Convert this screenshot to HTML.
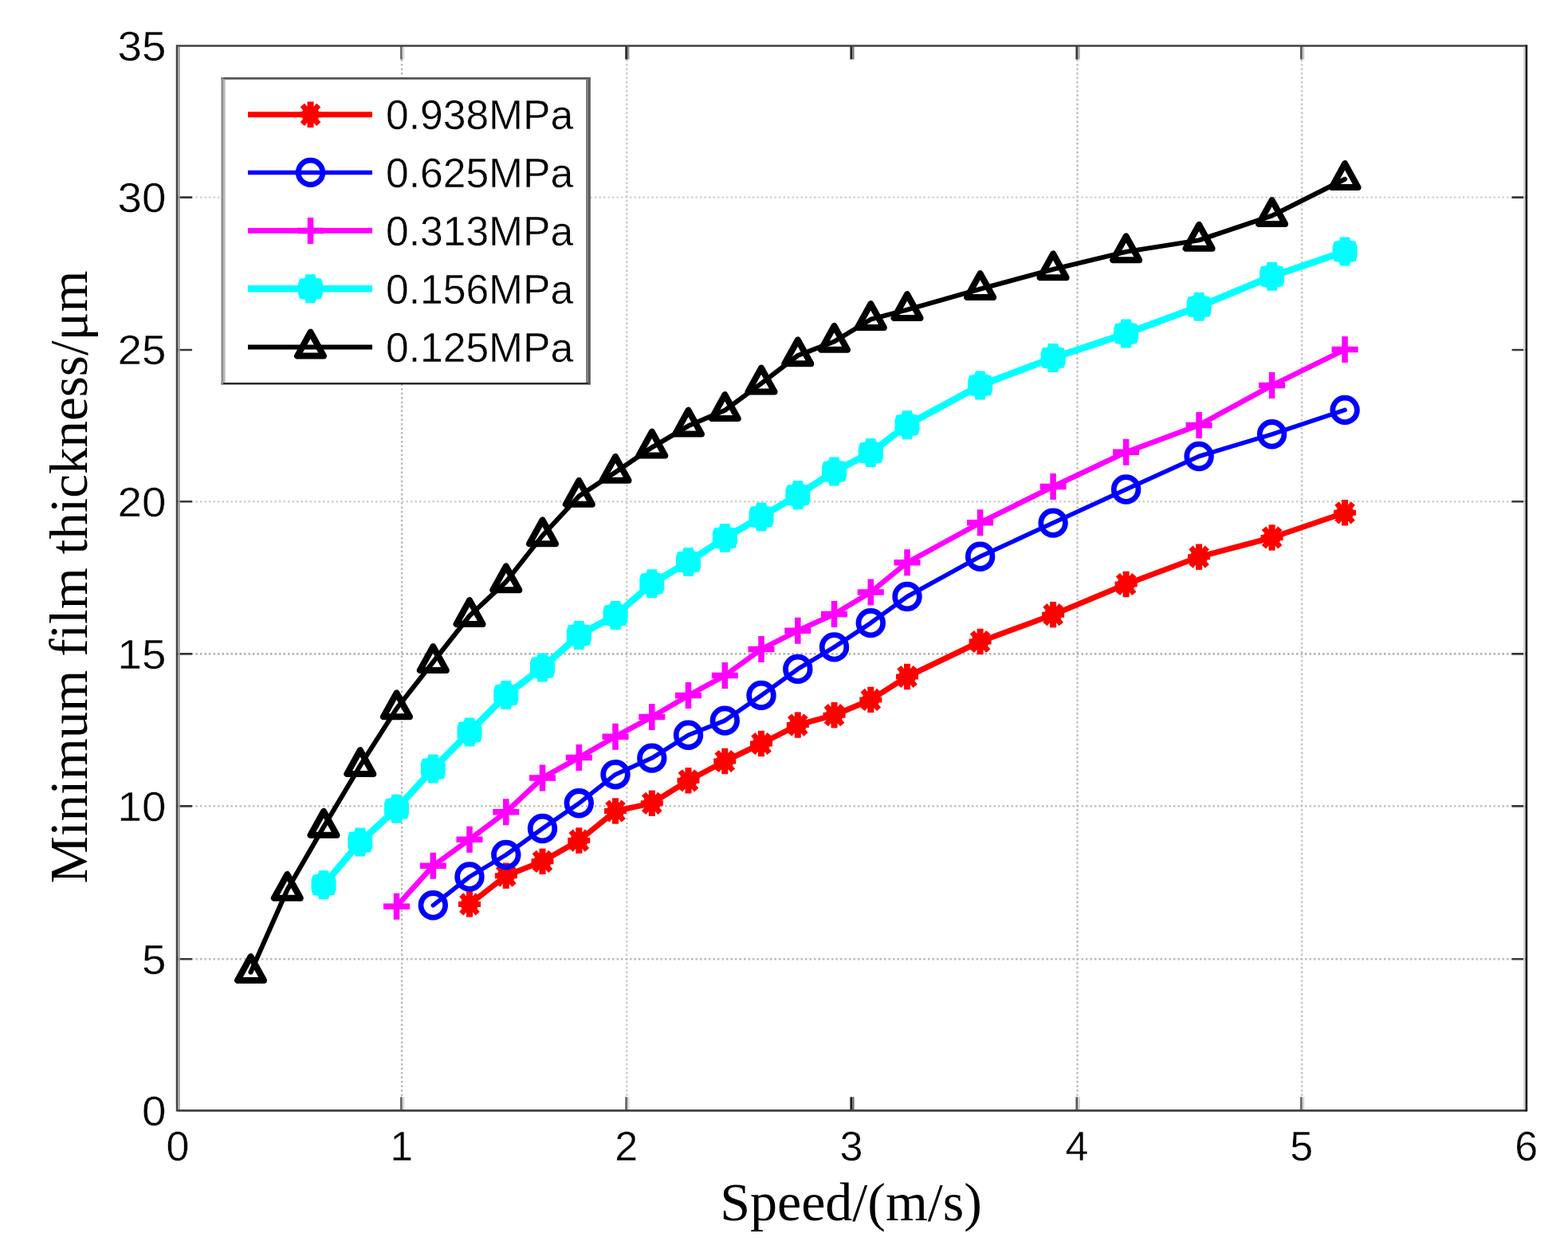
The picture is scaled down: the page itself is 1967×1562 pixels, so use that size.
<!DOCTYPE html>
<html><head><meta charset="utf-8"><title>Minimum film thickness vs speed</title>
<style>html,body{margin:0;padding:0;background:#fff;}body{width:1967px;height:1562px;overflow:hidden;}svg{display:block;}</style>
</head><body>
<svg width="1967" height="1562" viewBox="0 0 1967 1562">
<rect width="1967" height="1562" fill="#ffffff"/>
<path d="M504.1 74.5V1376.3" stroke="#b8b8b8" stroke-width="2.4" stroke-dasharray="2.4 3.1" fill="none"/>
<path d="M786.3 74.5V1376.3" stroke="#c8c8c8" stroke-width="2.4" stroke-dasharray="2.4 3.1" fill="none"/>
<path d="M1351.5 74.5V1376.3" stroke="#bdbdbd" stroke-width="2.4" stroke-dasharray="2.4 3.1" fill="none"/>
<path d="M1633.1 74.5V1376.3" stroke="#c4c4c4" stroke-width="2.4" stroke-dasharray="2.4 3.1" fill="none"/>
<path d="M240 1203.2H1897.6" stroke="#b8b8b8" stroke-width="2.4" stroke-dasharray="2.4 3.1" fill="none"/>
<path d="M240 1011.4H1897.6" stroke="#b8b8b8" stroke-width="2.4" stroke-dasharray="2.4 3.1" fill="none"/>
<path d="M240 820.4H1897.6" stroke="#a4a4a4" stroke-width="2.4" stroke-dasharray="2.4 3.1" fill="none"/>
<path d="M240 629.2H1897.6" stroke="#d0d0d0" stroke-width="2.4" stroke-dasharray="2.4 3.1" fill="none"/>
<path d="M240 247.6H1897.6" stroke="#d0d0d0" stroke-width="2.4" stroke-dasharray="2.4 3.1" fill="none"/>
<path d="M503.4 1393.3V1376.3" stroke="#686868" stroke-width="2.8" fill="none"/>
<path d="M506 1392V1376.3" stroke="#d6d6d6" stroke-width="2.4" fill="none"/>
<path d="M503.4 57.5V74.5" stroke="#6e6e6e" stroke-width="2.8" fill="none"/>
<path d="M506 58.8V74.5" stroke="#d8d8d8" stroke-width="2.4" fill="none"/>
<path d="M785.6 1393.3V1376.3" stroke="#686868" stroke-width="2.8" fill="none"/>
<path d="M788.2 1392V1376.3" stroke="#d6d6d6" stroke-width="2.4" fill="none"/>
<path d="M785.6 57.5V74.5" stroke="#303030" stroke-width="2.8" fill="none"/>
<path d="M788.2 58.8V74.5" stroke="#909090" stroke-width="2.4" fill="none"/>
<path d="M1067.8 1393.3V1376.3" stroke="#1e1e1e" stroke-width="2.8" fill="none"/>
<path d="M1070.4 1392V1376.3" stroke="#707070" stroke-width="2.4" fill="none"/>
<path d="M1067.8 57.5V74.5" stroke="#262626" stroke-width="2.8" fill="none"/>
<path d="M1070.4 58.8V74.5" stroke="#808080" stroke-width="2.4" fill="none"/>
<path d="M1350.8 1393.3V1376.3" stroke="#5a5a5a" stroke-width="2.8" fill="none"/>
<path d="M1353.4 1392V1376.3" stroke="#c8c8c8" stroke-width="2.4" fill="none"/>
<path d="M1350.8 57.5V74.5" stroke="#383838" stroke-width="2.8" fill="none"/>
<path d="M1353.4 58.8V74.5" stroke="#a0a0a0" stroke-width="2.4" fill="none"/>
<path d="M1632.4 1393.3V1376.3" stroke="#686868" stroke-width="2.8" fill="none"/>
<path d="M1635 1392V1376.3" stroke="#d6d6d6" stroke-width="2.4" fill="none"/>
<path d="M1632.4 57.5V74.5" stroke="#5a5a5a" stroke-width="2.8" fill="none"/>
<path d="M1635 58.8V74.5" stroke="#c8c8c8" stroke-width="2.4" fill="none"/>
<path d="M223 1203.2H241M1914.6 1203.2H1896.6M223 1011.4H241M1914.6 1011.4H1896.6M223 820.4H241M1914.6 820.4H1896.6M223 629.2H241M1914.6 629.2H1896.6M223 439H241M1914.6 439H1896.6M223 247.6H241M1914.6 247.6H1896.6" stroke="#383838" stroke-width="2.6" fill="none"/>
<path d="M223 57.5H1914.6M223 1393.3H1914.6" stroke="#404040" stroke-width="2.7" fill="none"/>
<path d="M222 56.2V1394.6" stroke="#404040" stroke-width="2.5" fill="none"/>
<path d="M224.5 58.8V1392" stroke="#9c9c9c" stroke-width="2.5" fill="none"/>
<path d="M1912.4 58.8V1392" stroke="#d4d4d4" stroke-width="2.5" fill="none"/>
<path d="M1914.9 56.2V1394.6" stroke="#151515" stroke-width="2.6" fill="none"/>
<path d="M589 1134.4L634.8 1098.7L680.5 1080.8L726.3 1054.6L772 1017.5L817.8 1007.8L863.5 979.3L909.3 955L955 933L1000.8 909.6L1046.5 897.2L1092.3 877.9L1138 849L1229.6 805L1321.1 771.2L1412.6 733L1504.1 698.7L1595.6 674.5L1687.1 643.3" stroke="#ff0000" stroke-width="7.0" fill="none" stroke-linejoin="round" stroke-linecap="round"/>
<g><path d="M589 1118.2V1150.6" stroke="#ff0000" stroke-width="8" fill="none"/><path d="M575 1134.4H603M578.8 1122.6L599.2 1146.2M578.8 1146.2L599.2 1122.6" stroke="#ff0000" stroke-width="7" fill="none"/><circle cx="589" cy="1134.4" r="11" fill="#ff0000"/><path d="M634.8 1082.5V1114.9" stroke="#ff0000" stroke-width="8" fill="none"/><path d="M620.8 1098.7H648.8M624.6 1086.9L645 1110.5M624.6 1110.5L645 1086.9" stroke="#ff0000" stroke-width="7" fill="none"/><circle cx="634.8" cy="1098.7" r="11" fill="#ff0000"/><path d="M680.5 1064.6V1097" stroke="#ff0000" stroke-width="8" fill="none"/><path d="M666.5 1080.8H694.5M670.3 1069L690.7 1092.6M670.3 1092.6L690.7 1069" stroke="#ff0000" stroke-width="7" fill="none"/><circle cx="680.5" cy="1080.8" r="11" fill="#ff0000"/><path d="M726.3 1038.4V1070.8" stroke="#ff0000" stroke-width="8" fill="none"/><path d="M712.3 1054.6H740.3M716.1 1042.8L736.5 1066.4M716.1 1066.4L736.5 1042.8" stroke="#ff0000" stroke-width="7" fill="none"/><circle cx="726.3" cy="1054.6" r="11" fill="#ff0000"/><path d="M772 1001.3V1033.7" stroke="#ff0000" stroke-width="8" fill="none"/><path d="M758 1017.5H786M761.8 1005.7L782.2 1029.3M761.8 1029.3L782.2 1005.7" stroke="#ff0000" stroke-width="7" fill="none"/><circle cx="772" cy="1017.5" r="11" fill="#ff0000"/><path d="M817.8 991.6V1024" stroke="#ff0000" stroke-width="8" fill="none"/><path d="M803.8 1007.8H831.8M807.6 996L828 1019.6M807.6 1019.6L828 996" stroke="#ff0000" stroke-width="7" fill="none"/><circle cx="817.8" cy="1007.8" r="11" fill="#ff0000"/><path d="M863.5 963.1V995.5" stroke="#ff0000" stroke-width="8" fill="none"/><path d="M849.5 979.3H877.5M853.3 967.5L873.7 991.1M853.3 991.1L873.7 967.5" stroke="#ff0000" stroke-width="7" fill="none"/><circle cx="863.5" cy="979.3" r="11" fill="#ff0000"/><path d="M909.3 938.8V971.2" stroke="#ff0000" stroke-width="8" fill="none"/><path d="M895.3 955H923.3M899.1 943.2L919.5 966.8M899.1 966.8L919.5 943.2" stroke="#ff0000" stroke-width="7" fill="none"/><circle cx="909.3" cy="955" r="11" fill="#ff0000"/><path d="M955 916.8V949.2" stroke="#ff0000" stroke-width="8" fill="none"/><path d="M941 933H969M944.8 921.2L965.2 944.8M944.8 944.8L965.2 921.2" stroke="#ff0000" stroke-width="7" fill="none"/><circle cx="955" cy="933" r="11" fill="#ff0000"/><path d="M1000.8 893.4V925.8" stroke="#ff0000" stroke-width="8" fill="none"/><path d="M986.8 909.6H1014.8M990.6 897.8L1011 921.4M990.6 921.4L1011 897.8" stroke="#ff0000" stroke-width="7" fill="none"/><circle cx="1000.8" cy="909.6" r="11" fill="#ff0000"/><path d="M1046.5 881V913.4" stroke="#ff0000" stroke-width="8" fill="none"/><path d="M1032.5 897.2H1060.5M1036.3 885.4L1056.7 909M1036.3 909L1056.7 885.4" stroke="#ff0000" stroke-width="7" fill="none"/><circle cx="1046.5" cy="897.2" r="11" fill="#ff0000"/><path d="M1092.3 861.7V894.1" stroke="#ff0000" stroke-width="8" fill="none"/><path d="M1078.3 877.9H1106.3M1082.1 866.1L1102.5 889.7M1082.1 889.7L1102.5 866.1" stroke="#ff0000" stroke-width="7" fill="none"/><circle cx="1092.3" cy="877.9" r="11" fill="#ff0000"/><path d="M1138 832.8V865.2" stroke="#ff0000" stroke-width="8" fill="none"/><path d="M1124 849H1152M1127.8 837.2L1148.2 860.8M1127.8 860.8L1148.2 837.2" stroke="#ff0000" stroke-width="7" fill="none"/><circle cx="1138" cy="849" r="11" fill="#ff0000"/><path d="M1229.6 788.8V821.2" stroke="#ff0000" stroke-width="8" fill="none"/><path d="M1215.6 805H1243.6M1219.4 793.2L1239.8 816.8M1219.4 816.8L1239.8 793.2" stroke="#ff0000" stroke-width="7" fill="none"/><circle cx="1229.6" cy="805" r="11" fill="#ff0000"/><path d="M1321.1 755V787.4" stroke="#ff0000" stroke-width="8" fill="none"/><path d="M1307.1 771.2H1335.1M1310.9 759.4L1331.3 783M1310.9 783L1331.3 759.4" stroke="#ff0000" stroke-width="7" fill="none"/><circle cx="1321.1" cy="771.2" r="11" fill="#ff0000"/><path d="M1412.6 716.8V749.2" stroke="#ff0000" stroke-width="8" fill="none"/><path d="M1398.6 733H1426.6M1402.4 721.2L1422.8 744.8M1402.4 744.8L1422.8 721.2" stroke="#ff0000" stroke-width="7" fill="none"/><circle cx="1412.6" cy="733" r="11" fill="#ff0000"/><path d="M1504.1 682.5V714.9" stroke="#ff0000" stroke-width="8" fill="none"/><path d="M1490.1 698.7H1518.1M1493.9 686.9L1514.3 710.5M1493.9 710.5L1514.3 686.9" stroke="#ff0000" stroke-width="7" fill="none"/><circle cx="1504.1" cy="698.7" r="11" fill="#ff0000"/><path d="M1595.6 658.3V690.7" stroke="#ff0000" stroke-width="8" fill="none"/><path d="M1581.6 674.5H1609.6M1585.4 662.7L1605.8 686.3M1585.4 686.3L1605.8 662.7" stroke="#ff0000" stroke-width="7" fill="none"/><circle cx="1595.6" cy="674.5" r="11" fill="#ff0000"/><path d="M1687.1 627.1V659.5" stroke="#ff0000" stroke-width="8" fill="none"/><path d="M1673.1 643.3H1701.1M1676.9 631.5L1697.3 655.1M1676.9 655.1L1697.3 631.5" stroke="#ff0000" stroke-width="7" fill="none"/><circle cx="1687.1" cy="643.3" r="11" fill="#ff0000"/></g>
<path d="M543.3 1135.8L589 1100L634.8 1072.5L680.5 1039.5L726.3 1007.8L772 971.7L817.8 951.1L863.5 922.2L909.3 904.1L955 872.4L1000.8 839.4L1046.5 811.9L1092.3 781.6L1138 748.5L1229.6 698.2L1321.1 656.1L1412.6 614L1504.1 572.5L1595.6 544.8L1687.1 514.4" stroke="#0000ff" stroke-width="5.5" fill="none" stroke-linejoin="round" stroke-linecap="round"/>
<g><circle cx="543.3" cy="1135.8" r="15.3" stroke="#0000ff" stroke-width="6.8" fill="none"/><circle cx="589" cy="1100" r="15.3" stroke="#0000ff" stroke-width="6.8" fill="none"/><circle cx="634.8" cy="1072.5" r="15.3" stroke="#0000ff" stroke-width="6.8" fill="none"/><circle cx="680.5" cy="1039.5" r="15.3" stroke="#0000ff" stroke-width="6.8" fill="none"/><circle cx="726.3" cy="1007.8" r="15.3" stroke="#0000ff" stroke-width="6.8" fill="none"/><circle cx="772" cy="971.7" r="15.3" stroke="#0000ff" stroke-width="6.8" fill="none"/><circle cx="817.8" cy="951.1" r="15.3" stroke="#0000ff" stroke-width="6.8" fill="none"/><circle cx="863.5" cy="922.2" r="15.3" stroke="#0000ff" stroke-width="6.8" fill="none"/><circle cx="909.3" cy="904.1" r="15.3" stroke="#0000ff" stroke-width="6.8" fill="none"/><circle cx="955" cy="872.4" r="15.3" stroke="#0000ff" stroke-width="6.8" fill="none"/><circle cx="1000.8" cy="839.4" r="15.3" stroke="#0000ff" stroke-width="6.8" fill="none"/><circle cx="1046.5" cy="811.9" r="15.3" stroke="#0000ff" stroke-width="6.8" fill="none"/><circle cx="1092.3" cy="781.6" r="15.3" stroke="#0000ff" stroke-width="6.8" fill="none"/><circle cx="1138" cy="748.5" r="15.3" stroke="#0000ff" stroke-width="6.8" fill="none"/><circle cx="1229.6" cy="698.2" r="15.3" stroke="#0000ff" stroke-width="6.8" fill="none"/><circle cx="1321.1" cy="656.1" r="15.3" stroke="#0000ff" stroke-width="6.8" fill="none"/><circle cx="1412.6" cy="614" r="15.3" stroke="#0000ff" stroke-width="6.8" fill="none"/><circle cx="1504.1" cy="572.5" r="15.3" stroke="#0000ff" stroke-width="6.8" fill="none"/><circle cx="1595.6" cy="544.8" r="15.3" stroke="#0000ff" stroke-width="6.8" fill="none"/><circle cx="1687.1" cy="514.4" r="15.3" stroke="#0000ff" stroke-width="6.8" fill="none"/></g>
<path d="M497.5 1137.2L543.3 1086.3L589 1053.2L634.8 1018.8L680.5 976L726.3 950.5L772 924.2L817.8 899.5L863.5 872.6L909.3 847.6L955 814.6L1000.8 791.2L1046.5 770.6L1092.3 743L1138 705.8L1229.6 655.8L1321.1 610.5L1412.6 567.3L1504.1 533.4L1595.6 483.6L1687.1 438.6" stroke="#ff00ff" stroke-width="6.6" fill="none" stroke-linejoin="round" stroke-linecap="round"/>
<g><path d="M497.5 1120.7V1153.7M481 1137.2H514" stroke="#ff00ff" stroke-width="7.5" fill="none"/><path d="M543.3 1069.8V1102.8M526.8 1086.3H559.8" stroke="#ff00ff" stroke-width="7.5" fill="none"/><path d="M589 1036.7V1069.7M572.5 1053.2H605.5" stroke="#ff00ff" stroke-width="7.5" fill="none"/><path d="M634.8 1002.3V1035.3M618.3 1018.8H651.3" stroke="#ff00ff" stroke-width="7.5" fill="none"/><path d="M680.5 959.5V992.5M664 976H697" stroke="#ff00ff" stroke-width="7.5" fill="none"/><path d="M726.3 934V967M709.8 950.5H742.8" stroke="#ff00ff" stroke-width="7.5" fill="none"/><path d="M772 907.7V940.7M755.5 924.2H788.5" stroke="#ff00ff" stroke-width="7.5" fill="none"/><path d="M817.8 883V916M801.3 899.5H834.3" stroke="#ff00ff" stroke-width="7.5" fill="none"/><path d="M863.5 856.1V889.1M847 872.6H880" stroke="#ff00ff" stroke-width="7.5" fill="none"/><path d="M909.3 831.1V864.1M892.8 847.6H925.8" stroke="#ff00ff" stroke-width="7.5" fill="none"/><path d="M955 798.1V831.1M938.5 814.6H971.5" stroke="#ff00ff" stroke-width="7.5" fill="none"/><path d="M1000.8 774.7V807.7M984.3 791.2H1017.3" stroke="#ff00ff" stroke-width="7.5" fill="none"/><path d="M1046.5 754.1V787.1M1030 770.6H1063" stroke="#ff00ff" stroke-width="7.5" fill="none"/><path d="M1092.3 726.5V759.5M1075.8 743H1108.8" stroke="#ff00ff" stroke-width="7.5" fill="none"/><path d="M1138 689.3V722.3M1121.5 705.8H1154.5" stroke="#ff00ff" stroke-width="7.5" fill="none"/><path d="M1229.6 639.3V672.3M1213.1 655.8H1246.1" stroke="#ff00ff" stroke-width="7.5" fill="none"/><path d="M1321.1 594V627M1304.6 610.5H1337.6" stroke="#ff00ff" stroke-width="7.5" fill="none"/><path d="M1412.6 550.8V583.8M1396.1 567.3H1429.1" stroke="#ff00ff" stroke-width="7.5" fill="none"/><path d="M1504.1 516.9V549.9M1487.6 533.4H1520.6" stroke="#ff00ff" stroke-width="7.5" fill="none"/><path d="M1595.6 467.1V500.1M1579.1 483.6H1612.1" stroke="#ff00ff" stroke-width="7.5" fill="none"/><path d="M1687.1 422.1V455.1M1670.6 438.6H1703.6" stroke="#ff00ff" stroke-width="7.5" fill="none"/></g>
<path d="M406 1110.2L451.8 1056.4L497.5 1014.7L543.3 964.6L589 918.4L634.8 872.1L680.5 837.5L726.3 797L772 772L817.8 732.2L863.5 705L909.3 675L955 648.4L1000.8 621.2L1046.5 591.6L1092.3 568L1138 533.2L1229.6 483.6L1321.1 449L1412.6 418.6L1504.1 384.7L1595.6 346.7L1687.1 315.5" stroke="#00ffff" stroke-width="8.5" fill="none" stroke-linejoin="round" stroke-linecap="round"/>
<g><polygon points="400,1092.2 412,1092.2 413,1096.7 419.5,1097.7 421.5,1104.2 421.5,1116.2 419.5,1122.7 413,1123.7 412,1128.2 400,1128.2 399,1123.7 392.5,1122.7 390.5,1116.2 390.5,1104.2 392.5,1097.7 399,1096.7" fill="#00ffff"/><polygon points="445.8,1038.4 457.8,1038.4 458.8,1042.9 465.3,1043.9 467.3,1050.4 467.3,1062.4 465.3,1068.9 458.8,1069.9 457.8,1074.4 445.8,1074.4 444.8,1069.9 438.3,1068.9 436.3,1062.4 436.3,1050.4 438.3,1043.9 444.8,1042.9" fill="#00ffff"/><polygon points="491.5,996.7 503.5,996.7 504.5,1001.2 511,1002.2 513,1008.7 513,1020.7 511,1027.2 504.5,1028.2 503.5,1032.7 491.5,1032.7 490.5,1028.2 484,1027.2 482,1020.7 482,1008.7 484,1002.2 490.5,1001.2" fill="#00ffff"/><polygon points="537.3,946.6 549.3,946.6 550.3,951.1 556.8,952.1 558.8,958.6 558.8,970.6 556.8,977.1 550.3,978.1 549.3,982.6 537.3,982.6 536.3,978.1 529.8,977.1 527.8,970.6 527.8,958.6 529.8,952.1 536.3,951.1" fill="#00ffff"/><polygon points="583,900.4 595,900.4 596,904.9 602.5,905.9 604.5,912.4 604.5,924.4 602.5,930.9 596,931.9 595,936.4 583,936.4 582,931.9 575.5,930.9 573.5,924.4 573.5,912.4 575.5,905.9 582,904.9" fill="#00ffff"/><polygon points="628.8,854.1 640.8,854.1 641.8,858.6 648.3,859.6 650.3,866.1 650.3,878.1 648.3,884.6 641.8,885.6 640.8,890.1 628.8,890.1 627.8,885.6 621.3,884.6 619.3,878.1 619.3,866.1 621.3,859.6 627.8,858.6" fill="#00ffff"/><polygon points="674.5,819.5 686.5,819.5 687.5,824 694,825 696,831.5 696,843.5 694,850 687.5,851 686.5,855.5 674.5,855.5 673.5,851 667,850 665,843.5 665,831.5 667,825 673.5,824" fill="#00ffff"/><polygon points="720.3,779 732.3,779 733.3,783.5 739.8,784.5 741.8,791 741.8,803 739.8,809.5 733.3,810.5 732.3,815 720.3,815 719.3,810.5 712.8,809.5 710.8,803 710.8,791 712.8,784.5 719.3,783.5" fill="#00ffff"/><polygon points="766,754 778,754 779,758.5 785.5,759.5 787.5,766 787.5,778 785.5,784.5 779,785.5 778,790 766,790 765,785.5 758.5,784.5 756.5,778 756.5,766 758.5,759.5 765,758.5" fill="#00ffff"/><polygon points="811.8,714.2 823.8,714.2 824.8,718.7 831.3,719.7 833.3,726.2 833.3,738.2 831.3,744.7 824.8,745.7 823.8,750.2 811.8,750.2 810.8,745.7 804.3,744.7 802.3,738.2 802.3,726.2 804.3,719.7 810.8,718.7" fill="#00ffff"/><polygon points="857.5,687 869.5,687 870.5,691.5 877,692.5 879,699 879,711 877,717.5 870.5,718.5 869.5,723 857.5,723 856.5,718.5 850,717.5 848,711 848,699 850,692.5 856.5,691.5" fill="#00ffff"/><polygon points="903.3,657 915.3,657 916.3,661.5 922.8,662.5 924.8,669 924.8,681 922.8,687.5 916.3,688.5 915.3,693 903.3,693 902.3,688.5 895.8,687.5 893.8,681 893.8,669 895.8,662.5 902.3,661.5" fill="#00ffff"/><polygon points="949,630.4 961,630.4 962,634.9 968.5,635.9 970.5,642.4 970.5,654.4 968.5,660.9 962,661.9 961,666.4 949,666.4 948,661.9 941.5,660.9 939.5,654.4 939.5,642.4 941.5,635.9 948,634.9" fill="#00ffff"/><polygon points="994.8,603.2 1006.8,603.2 1007.8,607.7 1014.3,608.7 1016.3,615.2 1016.3,627.2 1014.3,633.7 1007.8,634.7 1006.8,639.2 994.8,639.2 993.8,634.7 987.3,633.7 985.3,627.2 985.3,615.2 987.3,608.7 993.8,607.7" fill="#00ffff"/><polygon points="1040.5,573.6 1052.5,573.6 1053.5,578.1 1060,579.1 1062,585.6 1062,597.6 1060,604.1 1053.5,605.1 1052.5,609.6 1040.5,609.6 1039.5,605.1 1033,604.1 1031,597.6 1031,585.6 1033,579.1 1039.5,578.1" fill="#00ffff"/><polygon points="1086.3,550 1098.3,550 1099.3,554.5 1105.8,555.5 1107.8,562 1107.8,574 1105.8,580.5 1099.3,581.5 1098.3,586 1086.3,586 1085.3,581.5 1078.8,580.5 1076.8,574 1076.8,562 1078.8,555.5 1085.3,554.5" fill="#00ffff"/><polygon points="1132,515.2 1144,515.2 1145,519.7 1151.5,520.7 1153.5,527.2 1153.5,539.2 1151.5,545.7 1145,546.7 1144,551.2 1132,551.2 1131,546.7 1124.5,545.7 1122.5,539.2 1122.5,527.2 1124.5,520.7 1131,519.7" fill="#00ffff"/><polygon points="1223.6,465.6 1235.6,465.6 1236.6,470.1 1243.1,471.1 1245.1,477.6 1245.1,489.6 1243.1,496.1 1236.6,497.1 1235.6,501.6 1223.6,501.6 1222.6,497.1 1216.1,496.1 1214.1,489.6 1214.1,477.6 1216.1,471.1 1222.6,470.1" fill="#00ffff"/><polygon points="1315.1,431 1327.1,431 1328.1,435.5 1334.6,436.5 1336.6,443 1336.6,455 1334.6,461.5 1328.1,462.5 1327.1,467 1315.1,467 1314.1,462.5 1307.6,461.5 1305.6,455 1305.6,443 1307.6,436.5 1314.1,435.5" fill="#00ffff"/><polygon points="1406.6,400.6 1418.6,400.6 1419.6,405.1 1426.1,406.1 1428.1,412.6 1428.1,424.6 1426.1,431.1 1419.6,432.1 1418.6,436.6 1406.6,436.6 1405.6,432.1 1399.1,431.1 1397.1,424.6 1397.1,412.6 1399.1,406.1 1405.6,405.1" fill="#00ffff"/><polygon points="1498.1,366.7 1510.1,366.7 1511.1,371.2 1517.6,372.2 1519.6,378.7 1519.6,390.7 1517.6,397.2 1511.1,398.2 1510.1,402.7 1498.1,402.7 1497.1,398.2 1490.6,397.2 1488.6,390.7 1488.6,378.7 1490.6,372.2 1497.1,371.2" fill="#00ffff"/><polygon points="1589.6,328.7 1601.6,328.7 1602.6,333.2 1609.1,334.2 1611.1,340.7 1611.1,352.7 1609.1,359.2 1602.6,360.2 1601.6,364.7 1589.6,364.7 1588.6,360.2 1582.1,359.2 1580.1,352.7 1580.1,340.7 1582.1,334.2 1588.6,333.2" fill="#00ffff"/><polygon points="1681.1,297.5 1693.1,297.5 1694.1,302 1700.6,303 1702.6,309.5 1702.6,321.5 1700.6,328 1694.1,329 1693.1,333.5 1681.1,333.5 1680.1,329 1673.6,328 1671.6,321.5 1671.6,309.5 1673.6,303 1680.1,302" fill="#00ffff"/></g>
<path d="M314.5 1219.7L360.3 1116.5L406 1037.5L451.8 960.7L497.5 889L543.3 830.6L589 772.6L634.8 730L680.5 672L726.3 622.5L772 592.4L817.8 561.3L863.5 534.3L909.3 514.8L955 481.1L1000.8 446L1046.5 428.5L1092.3 400.7L1138 388.7L1229.6 362.6L1321.1 337.9L1412.6 315.9L1504.1 301.4L1595.6 270.6L1687.1 224.8" stroke="#000000" stroke-width="6.0" fill="none" stroke-linejoin="round" stroke-linecap="round"/>
<g><polygon points="314.5,1200.2 298,1230 331,1230" stroke="#000000" stroke-width="8" stroke-linejoin="round" fill="none"/><polygon points="360.3,1097 343.8,1126.8 376.8,1126.8" stroke="#000000" stroke-width="8" stroke-linejoin="round" fill="none"/><polygon points="406,1018 389.5,1047.8 422.5,1047.8" stroke="#000000" stroke-width="8" stroke-linejoin="round" fill="none"/><polygon points="451.8,941.2 435.3,971 468.3,971" stroke="#000000" stroke-width="8" stroke-linejoin="round" fill="none"/><polygon points="497.5,869.5 481,899.3 514,899.3" stroke="#000000" stroke-width="8" stroke-linejoin="round" fill="none"/><polygon points="543.3,811.1 526.8,840.9 559.8,840.9" stroke="#000000" stroke-width="8" stroke-linejoin="round" fill="none"/><polygon points="589,753.1 572.5,782.9 605.5,782.9" stroke="#000000" stroke-width="8" stroke-linejoin="round" fill="none"/><polygon points="634.8,710.5 618.3,740.3 651.3,740.3" stroke="#000000" stroke-width="8" stroke-linejoin="round" fill="none"/><polygon points="680.5,652.5 664,682.3 697,682.3" stroke="#000000" stroke-width="8" stroke-linejoin="round" fill="none"/><polygon points="726.3,603 709.8,632.8 742.8,632.8" stroke="#000000" stroke-width="8" stroke-linejoin="round" fill="none"/><polygon points="772,572.9 755.5,602.7 788.5,602.7" stroke="#000000" stroke-width="8" stroke-linejoin="round" fill="none"/><polygon points="817.8,541.8 801.3,571.6 834.3,571.6" stroke="#000000" stroke-width="8" stroke-linejoin="round" fill="none"/><polygon points="863.5,514.8 847,544.6 880,544.6" stroke="#000000" stroke-width="8" stroke-linejoin="round" fill="none"/><polygon points="909.3,495.3 892.8,525.1 925.8,525.1" stroke="#000000" stroke-width="8" stroke-linejoin="round" fill="none"/><polygon points="955,461.6 938.5,491.4 971.5,491.4" stroke="#000000" stroke-width="8" stroke-linejoin="round" fill="none"/><polygon points="1000.8,426.5 984.3,456.3 1017.3,456.3" stroke="#000000" stroke-width="8" stroke-linejoin="round" fill="none"/><polygon points="1046.5,409 1030,438.8 1063,438.8" stroke="#000000" stroke-width="8" stroke-linejoin="round" fill="none"/><polygon points="1092.3,381.2 1075.8,411 1108.8,411" stroke="#000000" stroke-width="8" stroke-linejoin="round" fill="none"/><polygon points="1138,369.2 1121.5,399 1154.5,399" stroke="#000000" stroke-width="8" stroke-linejoin="round" fill="none"/><polygon points="1229.6,343.1 1213.1,372.9 1246.1,372.9" stroke="#000000" stroke-width="8" stroke-linejoin="round" fill="none"/><polygon points="1321.1,318.4 1304.6,348.2 1337.6,348.2" stroke="#000000" stroke-width="8" stroke-linejoin="round" fill="none"/><polygon points="1412.6,296.4 1396.1,326.2 1429.1,326.2" stroke="#000000" stroke-width="8" stroke-linejoin="round" fill="none"/><polygon points="1504.1,281.9 1487.6,311.7 1520.6,311.7" stroke="#000000" stroke-width="8" stroke-linejoin="round" fill="none"/><polygon points="1595.6,251.1 1579.1,280.9 1612.1,280.9" stroke="#000000" stroke-width="8" stroke-linejoin="round" fill="none"/><polygon points="1687.1,205.3 1670.6,235.1 1703.6,235.1" stroke="#000000" stroke-width="8" stroke-linejoin="round" fill="none"/></g>
<rect x="280.0" y="98.3" width="458.0" height="383.0" fill="#ffffff" stroke="none"/>
<path d="M277.4 98.3H740.6" stroke="#555555" stroke-width="2.8" fill="none"/>
<path d="M277.4 481.3H740.6" stroke="#2a2a2a" stroke-width="2.4" fill="none"/>
<path d="M278.7 97.0V482.6" stroke="#8f8f8f" stroke-width="2.6" fill="none"/>
<path d="M281.3 99.6V480.0" stroke="#b8b8b8" stroke-width="2.6" fill="none"/>
<path d="M736.5 99.6V480.0" stroke="#828282" stroke-width="3" fill="none"/>
<path d="M739.4 97.0V482.6" stroke="#5a5a5a" stroke-width="2.8" fill="none"/>
<path d="M311 143.8H467" stroke="#ff0000" stroke-width="7.0" fill="none"/>
<path d="M389.5 127.6V160" stroke="#ff0000" stroke-width="8" fill="none"/><path d="M375.5 143.8H403.5M379.3 132L399.7 155.6M379.3 155.6L399.7 132" stroke="#ff0000" stroke-width="7" fill="none"/><circle cx="389.5" cy="143.8" r="11" fill="#ff0000"/>
<text x="484" y="162.4" font-family="Liberation Sans, Arial, sans-serif" font-size="51.6" fill="#000" stroke="#fff" stroke-width="0.4">0.938MPa</text>
<path d="M311 216.4H467" stroke="#0000ff" stroke-width="5.5" fill="none"/>
<circle cx="389.5" cy="216.4" r="15.3" stroke="#0000ff" stroke-width="6.8" fill="none"/>
<text x="484" y="235" font-family="Liberation Sans, Arial, sans-serif" font-size="51.6" fill="#000" stroke="#fff" stroke-width="0.4">0.625MPa</text>
<path d="M311 289.4H467" stroke="#ff00ff" stroke-width="6.6" fill="none"/>
<path d="M389.5 272.9V305.9M373 289.4H406" stroke="#ff00ff" stroke-width="7.5" fill="none"/>
<text x="484" y="308" font-family="Liberation Sans, Arial, sans-serif" font-size="51.6" fill="#000" stroke="#fff" stroke-width="0.4">0.313MPa</text>
<path d="M311 362.3H467" stroke="#00ffff" stroke-width="8.5" fill="none"/>
<polygon points="383.5,344.3 395.5,344.3 396.5,348.8 403,349.8 405,356.3 405,368.3 403,374.8 396.5,375.8 395.5,380.3 383.5,380.3 382.5,375.8 376,374.8 374,368.3 374,356.3 376,349.8 382.5,348.8" fill="#00ffff"/>
<text x="484" y="380.9" font-family="Liberation Sans, Arial, sans-serif" font-size="51.6" fill="#000" stroke="#fff" stroke-width="0.4">0.156MPa</text>
<path d="M311 435.6H467" stroke="#000000" stroke-width="6.0" fill="none"/>
<polygon points="389.5,416.8 373,446.6 406,446.6" stroke="#000000" stroke-width="8" stroke-linejoin="round" fill="none"/>
<text x="484" y="454.2" font-family="Liberation Sans, Arial, sans-serif" font-size="51.6" fill="#000" stroke="#fff" stroke-width="0.4">0.125MPa</text>
<g font-family="Liberation Sans, Arial, sans-serif" font-size="52" fill="#000" stroke="#fff" stroke-width="0.4"><text x="223" y="1455.5" text-anchor="middle">0</text><text x="503.6" y="1455.5" text-anchor="middle">1</text><text x="785.8" y="1455.5" text-anchor="middle">2</text><text x="1068" y="1455.5" text-anchor="middle">3</text><text x="1351" y="1455.5" text-anchor="middle">4</text><text x="1632.6" y="1455.5" text-anchor="middle">5</text><text x="1914.6" y="1455.5" text-anchor="middle">6</text><text transform="translate(208.3 1411.6) scale(1.05 1)" text-anchor="end">0</text><text transform="translate(208.3 1221.5) scale(1.05 1)" text-anchor="end">5</text><text transform="translate(208.3 1029.7) scale(1.05 1)" text-anchor="end">10</text><text transform="translate(208.3 838.7) scale(1.05 1)" text-anchor="end">15</text><text transform="translate(208.3 647.5) scale(1.05 1)" text-anchor="end">20</text><text transform="translate(208.3 457.3) scale(1.05 1)" text-anchor="end">25</text><text transform="translate(208.3 265.9) scale(1.05 1)" text-anchor="end">30</text><text transform="translate(208.3 75.8) scale(1.05 1)" text-anchor="end">35</text></g>
<text x="1067.5" y="1531" text-anchor="middle" font-family="Liberation Serif, Times New Roman, serif" font-size="68" fill="#000">Speed/(m/s)</text>
<text transform="translate(108.5 724) rotate(-90)" x="0" y="0" text-anchor="middle" font-family="Liberation Serif, Times New Roman, serif" font-size="67" fill="#000">Minimum film thickness/μm</text>
</svg>
</body></html>
